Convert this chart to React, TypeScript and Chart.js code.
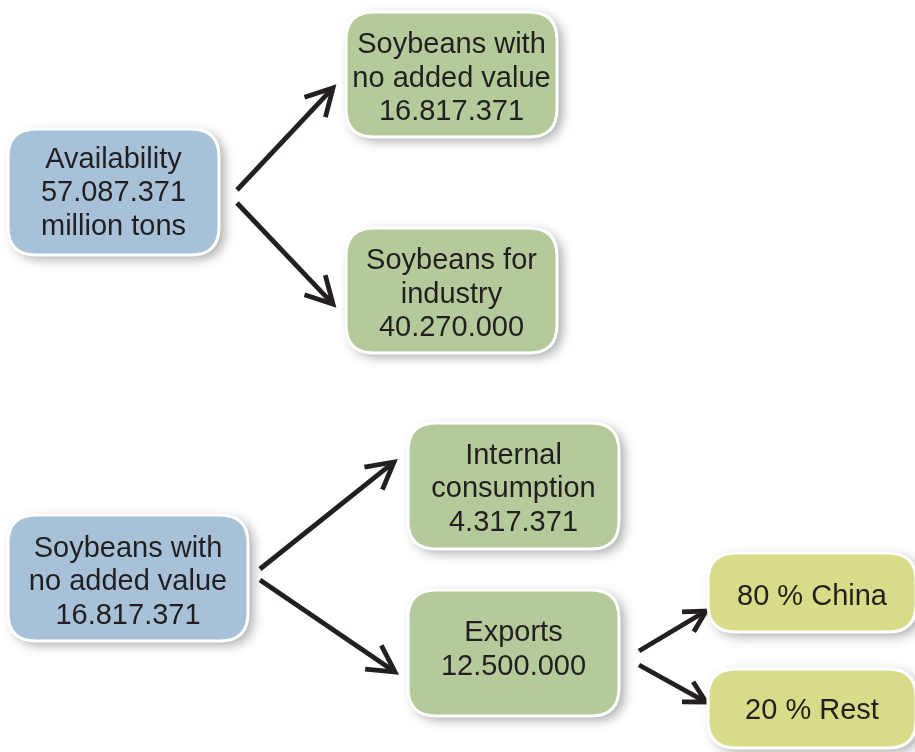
import React, { useEffect, useRef } from "react";
import { Chart, registerables } from "chart.js";

Chart.register(...registerables);

// ---- data ----
const nodeTitles = [
  "Availability",
  "Soybeans with\nno added value",
  "Soybeans for\nindustry",
  "Soybeans with\nno added value",
  "Internal\nconsumption",
  "Exports",
  "China",
  "Rest",
];
const nodeValues = [57087371, 16817371, 40270000, 16817371, 4317371, 12500000, 80, 20];
const nodeUnits = ["million tons", "", "", "", "", "", "%", "%"];
const nodeGroups = ["source", "split", "split", "source", "split", "split", "dest", "dest"];
const edgeFrom = [0, 0, 3, 3, 5, 5];
const edgeTo = [1, 2, 4, 5, 6, 7];

// ---- layout (data units of the hidden scales) ----
const nodeCX = [113.5, 451.5, 451.5, 128, 513.5, 513.5, 812, 812];
const nodeCY = [192, 74.5, 290.5, 578, 486, 653, 592.5, 708.5];
const nodeW = [211, 211, 211, 240, 211, 211, 208, 208];
const nodeH = [126, 125, 125, 126, 126, 126, 79, 79];
const textShift = [1, 4, 4, 4, 3, -3, 4, 2];
const arrowStart = [[237, 190], [237, 203], [260, 569], [260, 580], [639, 651], [639, 665]];
const arrowEnd = [[333, 88], [333, 304], [394, 462], [395, 672], [706, 611], [706, 702]];
const groupFill: Record<string, string> = { source: "#a7c2d8", split: "#b5ca9a", dest: "#d8db88" };

function fmt(n: number) {
  return String(n).replace(/\B(?=(\d{3})+(?!\d))/g, ".");
}
function nodeLines(i: number): string[] {
  if (nodeUnits[i] === "%") return [`${nodeValues[i]} % ${nodeTitles[i]}`];
  const lines = nodeTitles[i].split("\n");
  lines.push(fmt(nodeValues[i]));
  if (nodeUnits[i]) lines.push(nodeUnits[i]);
  return lines;
}

function roundRect(ctx: CanvasRenderingContext2D, x: number, y: number, w: number, h: number, r: number) {
  ctx.beginPath();
  ctx.moveTo(x + r, y);
  ctx.lineTo(x + w - r, y);
  ctx.quadraticCurveTo(x + w, y, x + w, y + r);
  ctx.lineTo(x + w, y + h - r);
  ctx.quadraticCurveTo(x + w, y + h, x + w - r, y + h);
  ctx.lineTo(x + r, y + h);
  ctx.quadraticCurveTo(x, y + h, x, y + h - r);
  ctx.lineTo(x, y + r);
  ctx.quadraticCurveTo(x, y, x + r, y);
  ctx.closePath();
}

const diagramPlugin = {
  id: "diagram",
  afterDatasetsDraw(chart: any) {
    const ctx: CanvasRenderingContext2D = chart.ctx;
    const xs = chart.scales.x;
    const ys = chart.scales.y;
    const px = (v: number) => xs.getPixelForValue(v);
    const py = (v: number) => ys.getPixelForValue(v);

    // arrows
    ctx.save();
    ctx.strokeStyle = "#231f20";
    ctx.lineWidth = 4.8;
    ctx.lineCap = "butt";
    ctx.lineJoin = "miter";
    edgeFrom.forEach((_, k) => {
      const x1 = px(arrowStart[k][0]);
      const y1 = py(arrowStart[k][1]);
      const x2 = px(arrowEnd[k][0]);
      const y2 = py(arrowEnd[k][1]);
      const ang = Math.atan2(y2 - y1, x2 - x1);
      const len = Math.hypot(x2 - x1, y2 - y1);
      const head = len > 100 ? 30 : 24;
      ctx.beginPath();
      ctx.moveTo(x1, y1);
      ctx.lineTo(x2 - Math.cos(ang) * 3, y2 - Math.sin(ang) * 3);
      ctx.stroke();
      const a = 0.5;
      ctx.beginPath();
      ctx.moveTo(x2 - head * Math.cos(ang - a), y2 - head * Math.sin(ang - a));
      ctx.lineTo(x2, y2);
      ctx.lineTo(x2 - head * Math.cos(ang + a), y2 - head * Math.sin(ang + a));
      ctx.stroke();
    });
    ctx.restore();

    // boxes
    nodeTitles.forEach((_, i) => {
      const x0 = px(nodeCX[i] - nodeW[i] / 2);
      const x1 = px(nodeCX[i] + nodeW[i] / 2);
      const y0 = py(nodeCY[i] - nodeH[i] / 2);
      const y1 = py(nodeCY[i] + nodeH[i] / 2);
      const w = x1 - x0;
      const h = y1 - y0;
      const r = Math.min(28, h / 2.6);
      ctx.save();
      ctx.shadowColor = "rgba(0,0,0,0.35)";
      ctx.shadowBlur = 12;
      ctx.shadowOffsetX = 5;
      ctx.shadowOffsetY = 4;
      roundRect(ctx, x0, y0, w, h, r);
      ctx.fillStyle = groupFill[nodeGroups[i]];
      ctx.fill();
      ctx.restore();
      ctx.save();
      roundRect(ctx, x0, y0, w, h, r);
      ctx.strokeStyle = "#ffffff";
      ctx.lineWidth = 3;
      ctx.stroke();
      ctx.restore();

      const lines = nodeLines(i);
      const lh = 33.5;
      const cx = (x0 + x1) / 2;
      const cy = (y0 + y1) / 2 + textShift[i];
      ctx.save();
      ctx.fillStyle = "#231f20";
      ctx.font = '29px "Liberation Sans", Arial, Helvetica, sans-serif';
      ctx.textAlign = "center";
      ctx.textBaseline = "middle";
      lines.forEach((ln, j) => {
        ctx.fillText(ln, cx, cy + (j - (lines.length - 1) / 2) * lh);
      });
      ctx.restore();
    });
  },
};

export default function App() {
  const ref = useRef<HTMLCanvasElement>(null);
  useEffect(() => {
    if (!ref.current) return;
    const chart = new Chart(ref.current, {
      type: "scatter",
      data: {
        datasets: [
          {
            data: nodeCX.map((x, i) => ({ x, y: nodeCY[i] })),
            pointRadius: 0,
            pointHoverRadius: 0,
          },
        ],
      },
      options: {
        animation: false,
        responsive: false,
        events: [],
        layout: { padding: 0 },
        plugins: { legend: { display: false }, tooltip: { enabled: false } },
        scales: {
          x: { type: "linear", min: 0, max: 915, display: false },
          y: { type: "linear", min: 0, max: 752, reverse: true, display: false },
        },
      },
      plugins: [diagramPlugin],
    });
    return () => chart.destroy();
  }, []);
  return (
    <div style={{ position: "absolute", left: 0, top: 0, width: 915, height: 752, background: "#fff" }}>
      <canvas ref={ref} width={915} height={752} style={{ display: "block" }} />
    </div>
  );
}
